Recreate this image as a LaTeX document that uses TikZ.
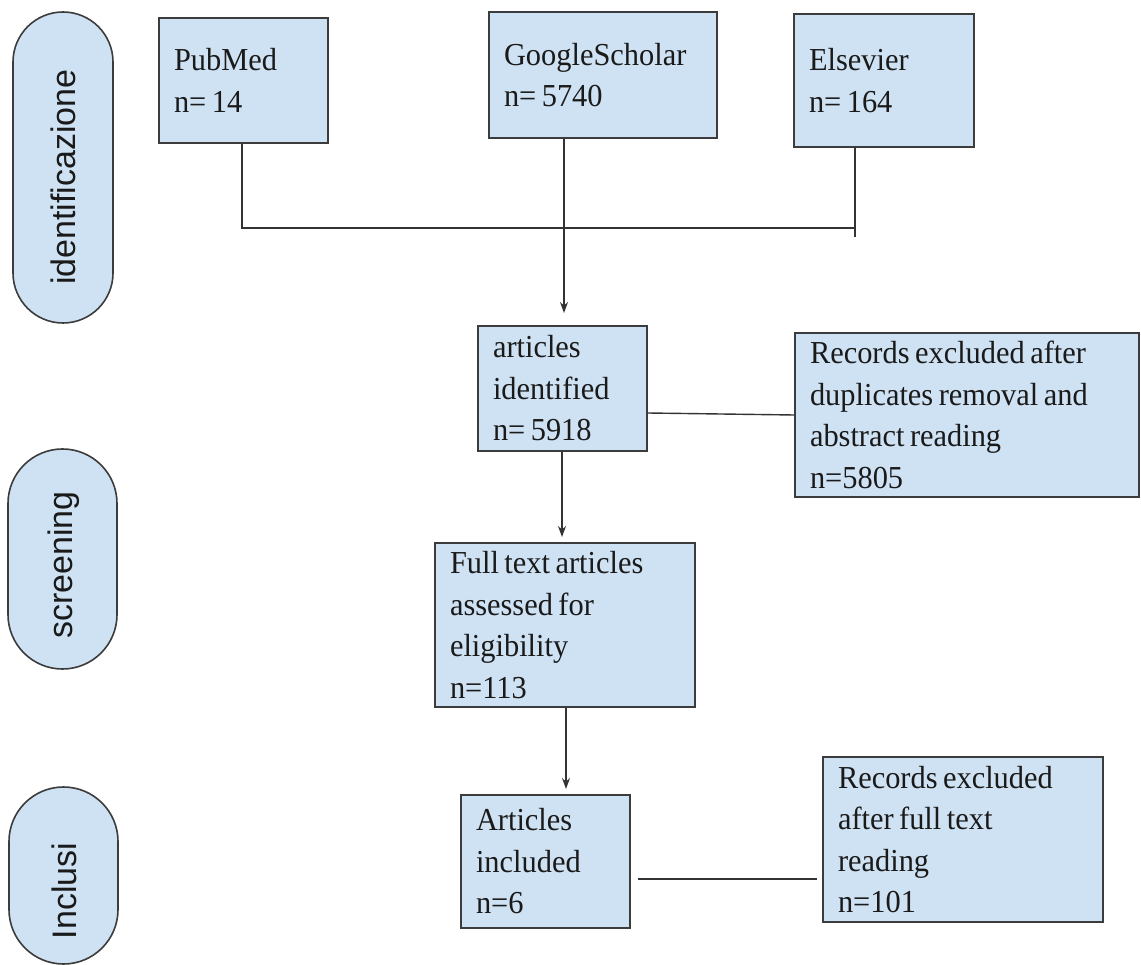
\documentclass[tikz,border=0pt]{standalone}
\usepackage{fontspec}
\setmainfont{Liberation Serif}[FakeStretch=0.95]
\newfontfamily\pillfont{Liberation Sans}
\usetikzlibrary{arrows.meta}
\definecolor{boxfill}{HTML}{CFE2F3}
\definecolor{bordercol}{HTML}{3C3C3C}
\definecolor{linecol}{HTML}{333333}
\definecolor{textcol}{HTML}{1A1A1A}
\newcommand\mytightspace{\spaceskip=5.5pt plus 1pt minus 1pt\relax}
\begin{document}
\begin{tikzpicture}[x=1pt,y=-1pt,
  stagebox/.style={draw=bordercol, line width=1.6pt, fill=boxfill, align=left,
    inner xsep=15pt, inner ysep=0pt, text=textcol,
    font=\fontsize{32}{41.5}\selectfont, execute at begin node=\mytightspace, anchor=center},
  pill/.style={draw=bordercol, line width=1.6pt, fill=boxfill, inner sep=0pt},
  pilltext/.style={rotate=90, text=textcol, inner sep=0pt,
    font=\pillfont\fontsize{34}{40}\selectfont},
  conn/.style={draw=linecol, line width=1.4pt},
  arr/.style={conn, -{Stealth[length=11pt,width=8pt]}}
]
\useasboundingbox (0,0) rectangle (1141,965);

% stage pills
\node[pill, minimum width=100pt, minimum height=311pt, rounded corners=50pt] (pid) at (63,167.5) {};
\node[pilltext] (tid) at (63.5,177) {identificazione};
\node[pill, minimum width=109pt, minimum height=220pt, rounded corners=54.5pt] (psc) at (62.5,559) {};
\node[pilltext] (tsc) at (64,565) {screening};
\node[pill, minimum width=109pt, minimum height=177pt, rounded corners=54.5pt] (pin) at (63.5,875.5) {};
\node[pilltext] (tin) at (64,891) {Inclusi};

% source boxes
\node[stagebox, text width=139pt, minimum height=125pt] (pubmed) at (243.5,80.5) {PubMed\\n= 14};
\node[stagebox, text width=198pt, minimum height=126pt] (google) at (603,75) {GoogleScholar\\n= 5740};
\node[stagebox, text width=150pt, minimum height=133pt] (elsevier) at (884,80.5) {Elsevier\\n= 164};

% flow boxes
\node[stagebox, text width=139pt, minimum height=125pt] (artid) at (562.5,388.5) {articles\\identified\\n= 5918};
\node[stagebox, text width=314pt, minimum height=164pt] (rec1) at (967,415) {Records excluded after\\duplicates removal and\\abstract reading\\n=5805};
\node[stagebox, text width=230pt, minimum height=164pt] (fulltext) at (565,625) {Full text articles\\assessed for\\eligibility\\n=113};
\node[stagebox, text width=139pt, minimum height=133pt] (artinc) at (545.5,861.5) {Articles\\included\\n=6};
\node[stagebox, text width=250pt, minimum height=165pt] (rec2) at (963,839.5) {Records excluded\\after full text\\reading\\n=101};

% helper coordinates
\coordinate (hl) at (242,228);
\coordinate (hr) at (855,228);
\coordinate (ev) at (855,237);
\coordinate (ga) at (564,313);
\coordinate (fa) at (562,537);
\coordinate (ia) at (566,789);
\coordinate (r1a) at (647,413);
\coordinate (r1b) at (795,415);
\coordinate (c1) at (638,879);
\coordinate (c2) at (817,879);

% connectors
\draw[conn] (pubmed.south -| hl) -- (hl) -- (hr);
\draw[conn] (elsevier.south -| ev) -- (ev);
\draw[arr] (google.south -| ga) -- (ga);
\draw[arr] (artid.south -| fa) -- (fa);
\draw[arr] (fulltext.south -| ia) -- (ia);
\draw[conn] (artid.east |- r1a) -- (rec1.west |- r1b);
\draw[conn] (c1) -- (c2);
\end{tikzpicture}
\end{document}
